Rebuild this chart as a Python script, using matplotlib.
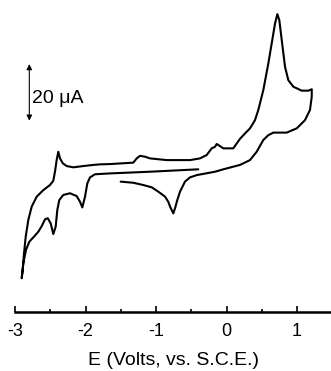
import matplotlib.pyplot as plt

plt.rcParams["font.family"] = ["Liberation Sans", "DejaVu Sans"]

# potential (V vs SCE) and current (uA) in scan order
potential = [
    # start, scan positive
    -1.501, -1.322, -1.180, -1.061, -0.967, -0.872, -0.826, -0.801, -0.755, -0.730,
    -0.698, -0.660, -0.589, -0.518, -0.423, -0.163, -0.045, 0.191, 0.333, 0.428,
    0.522, 0.593, 0.664, 0.854, 0.996, 1.113, 1.184, 1.209,
    # reverse, scan negative
    1.209, 1.160, 1.067, 0.948, 0.877, 0.830, 0.783, 0.749, 0.721, 0.688,
    0.641, 0.593, 0.522, 0.451, 0.404, 0.333, 0.262, 0.191, 0.096, -0.045,
    -0.139, -0.163, -0.210, -0.281, -0.376, -0.518, -0.848, -1.085, -1.156, -1.227,
    -1.274, -1.322, -1.652, -1.794, -1.889, -2.031, -2.173, -2.267, -2.323, -2.362,
    -2.386, -2.409, -2.433, -2.457, -2.504, -2.599, -2.692, -2.763, -2.811, -2.848,
    -2.872, -2.891, -2.905,
    # reverse, scan positive
    -2.882, -2.844, -2.797, -2.730, -2.670, -2.621, -2.574, -2.536, -2.494, -2.457,
    -2.423, -2.400, -2.372, -2.315, -2.220, -2.125, -2.078, -2.045, -2.007, -1.974,
    -1.936, -1.865, -1.652, -1.085, -0.400,
]
current = [
    -4.1, -4.5, -5.3, -6.1, -7.65, -9.4, -11.2, -12.9, -15.3, -13.5,
    -10.6, -7.65, -4.1, -2.6, -1.8, -0.6, 0.25, 1.8, 3.5, 6.45,
    10.6, 12.3, 13.2, 13.2, 14.7, 17.6, 21.2, 25.9,
    28.5, 28.0, 28.0, 29.4, 31.7, 36.4, 45.9, 52.9, 55.0, 51.7,
    44.7, 37.6, 28.2, 21.2, 17.6, 14.7, 12.9, 11.0, 7.65, 7.65,
    9.2, 8.2, 7.65, 5.3, 4.1, 3.5, 3.5, 4.1, 4.7, 5.0,
    4.1, 2.6, 2.1, 2.0, 1.8, 1.4, 0.95, 1.4, 2.4, 4.1,
    6.45, 3.5, -0.6, -3.8, -5.3, -7.1, -9.4, -12.9, -17.6, -23.5,
    -29.4, -35.3, -38.2,
    -32.9, -28.2, -25.3, -23.5, -21.8, -19.8, -17.4, -17.0, -18.8, -22.6,
    -20.0, -14.1, -10.6, -8.8, -8.2, -9.2, -11.2, -13.2, -9.4, -4.7,
    -2.6, -1.5, -1.2, -0.6, 0.25,
]

xticks_major = [-3, -2, -1, 0, 1]
xticks_minor = [-2.5, -1.5, -0.5, 0.5]
scale_bar = (17.4, 37.4)  # 20 uA
scale_label = "20 \u03bcA"

fig = plt.figure(figsize=(3.31, 3.71), dpi=100)
ax = fig.add_axes([15 / 331, 59.3 / 371, 316 / 331, 311.7 / 371])

ax.plot(potential, current, color="black", lw=1.5,
        solid_joinstyle="round", solid_capstyle="round")

# scale bar
ax.annotate("", xy=(-2.797, scale_bar[1]), xytext=(-2.797, scale_bar[0]),
            arrowprops=dict(arrowstyle="<|-|>", color="black", lw=0.8,
                            mutation_scale=8, shrinkA=0, shrinkB=0))
ax.text(-2.752, sum(scale_bar) / 2 - 2.0, scale_label, fontsize=14,
        va="center", ha="left")

ax.set_xlim(-3, 1.482)
ax.set_ylim(-50, 60)
for side in ["top", "right", "left"]:
    ax.spines[side].set_visible(False)
ax.spines["bottom"].set_linewidth(1.8)
ax.set_yticks([])
ax.set_xticks(xticks_major)
ax.set_xticks(xticks_minor, minor=True)
ax.set_xticklabels([str(t) for t in xticks_major], fontsize=13)
ax.tick_params(axis="x", which="major", direction="in", length=4, width=1.2, pad=8)
ax.tick_params(axis="x", which="minor", direction="in", length=2.5, width=1.2)
ax.set_xlabel("E (Volts, vs. S.C.E.)", fontsize=14, labelpad=9)

fig.savefig("out.png", dpi=100)
